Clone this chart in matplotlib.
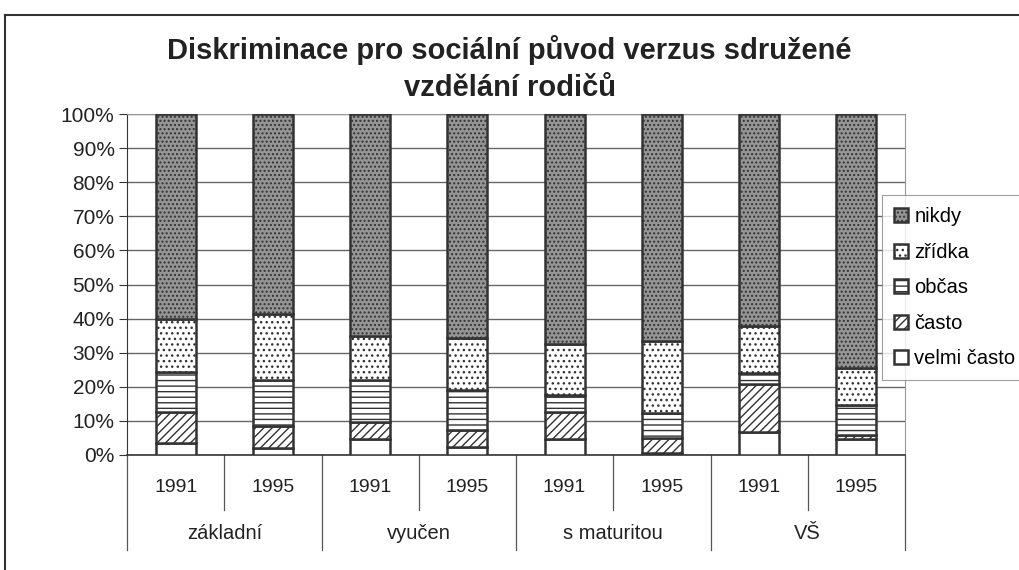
import numpy as np
import matplotlib.pyplot as plt
from matplotlib.lines import Line2D

plt.rcParams['font.family'] = ['Liberation Sans', 'DejaVu Sans']
plt.rcParams['hatch.linewidth'] = 1.0

years = ['1991', '1995'] * 4
groups = ['základní', 'vyučen', 's maturitou', 'VŠ']
series = ['velmi často', 'často', 'občas', 'zřídka', 'nikdy']

velmi_casto = [3.6, 2.0, 4.6, 2.4, 4.6, 0.7, 6.8, 4.6]
casto = [9.1, 6.6, 5.0, 4.9, 7.9, 4.2, 14.0, 1.3]
obcas = [11.7, 13.4, 12.4, 11.8, 5.1, 7.5, 3.3, 8.8]
zridka = [15.4, 19.3, 12.9, 15.1, 15.0, 21.1, 13.7, 10.7]
nikdy = [60.2, 58.7, 65.1, 65.8, 67.4, 66.5, 62.2, 74.6]

values = [velmi_casto, casto, obcas, zridka, nikdy]
faces = ['white', 'white', 'white', 'white', '#959595']
hatches = [None, '////', '---', '...', '....']

fig = plt.figure(figsize=(10.19, 5.70), dpi=100)
ax = fig.add_axes([127/1019, 1-455/570, 778/1019, 341/570])

x = np.arange(len(years))
bottom = np.zeros(len(years))
handles = []
for name, vals, fc, h in zip(series, values, faces, hatches):
    vals = np.array(vals)
    b = ax.bar(x, vals, 0.41, bottom=bottom, color=fc, hatch=h,
               edgecolor='#333333', linewidth=1.8, label=name, zorder=3)
    handles.append(b)
    bottom += vals

ax.set_xlim(-0.5, len(years) - 0.5)
ax.set_ylim(0, 100)
ax.set_yticks(range(0, 101, 10))
ax.set_yticklabels(['%d%%' % v for v in range(0, 101, 10)], fontsize=15, color='#222222')
ax.yaxis.grid(True, color='#666666', linewidth=1.0, zorder=0)
ax.set_xticks([])
ax.tick_params(axis='y', length=6, color='#333333', pad=3)
for s in ['top', 'right']:
    ax.spines[s].set_color('#999999')
    ax.spines[s].set_linewidth(0.8)
ax.spines['left'].set_color('#333333')
ax.spines['bottom'].set_color('#333333')
ax.spines['bottom'].set_linewidth(1.2)

# two-level category axis
tr = ax.get_xaxis_transform()
for i, yr in enumerate(years):
    ax.text(i, -0.094, yr, transform=tr, ha='center', va='center', fontsize=14, color='#222222')
for i in range(len(years) + 1):
    if i % 2 == 0:
        ax.plot([i - 0.5, i - 0.5], [0, -0.28], transform=tr, color='#555555', lw=0.9, clip_on=False)
    else:
        ax.plot([i - 0.5, i - 0.5], [0, -0.16], transform=tr, color='#555555', lw=0.9, clip_on=False)
for j, g in enumerate(groups):
    ax.text(2 * j + 0.5, -0.23, g, transform=tr, ha='center', va='center', fontsize=14.5, color='#222222')

fig.text(0.5, 1 - 50/570, 'Diskriminace pro sociální původ verzus sdružené',
         ha='center', va='center', fontsize=21, fontweight='bold', color='#222222')
fig.text(0.5, 1 - 88/570, 'vzdělání rodičů',
         ha='center', va='center', fontsize=21, fontweight='bold', color='#222222')

leg = fig.legend(handles[::-1], series[::-1], loc='upper left',
                 bbox_to_anchor=(882/1019, 1 - 195/570), fontsize=14.5,
                 frameon=True, fancybox=False, edgecolor='#888888',
                 handlelength=0.7, handleheight=0.7, handletextpad=0.3,
                 labelspacing=0.82, borderpad=0.6, borderaxespad=0)
leg.get_frame().set_linewidth(0.8)

fig.add_artist(Line2D([5/1019, 1], [1 - 15/570, 1 - 15/570], color='#333333', lw=1.5))
fig.add_artist(Line2D([5/1019, 5/1019], [0, 1 - 15/570], color='#333333', lw=1.5))

fig.savefig('out.png', dpi=100)
